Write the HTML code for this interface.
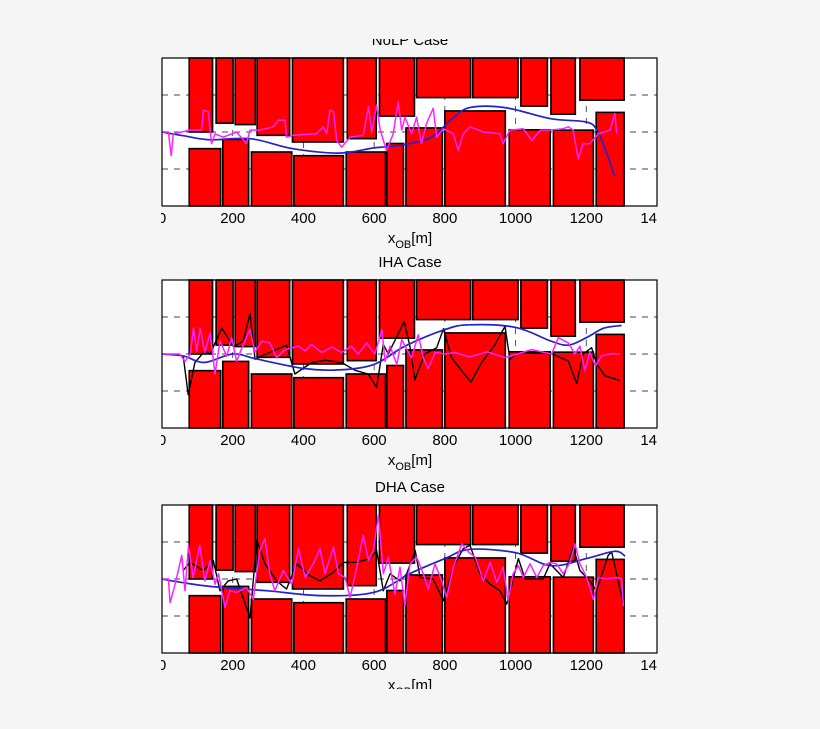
<!DOCTYPE html>
<html><head><meta charset="utf-8"><style>
html,body{margin:0;padding:0;background:#f5f5f5;}
svg{display:block;font-family:"Liberation Sans",sans-serif;}
</style></head><body>
<svg id="fig" width="820" height="729" viewBox="0 0 820 729" xmlns="http://www.w3.org/2000/svg">
<rect x="0" y="0" width="820" height="729" fill="#f5f5f5"/>
<defs><clipPath id="lblclip"><rect x="161" y="0" width="496" height="729"/></clipPath></defs>
</svg>
<script>
// ---- data ----
const xTicks = [0,200,400,600,800,1000,1200,1400];
const yTicks = [-10,0,10];
const panelTitles = ["NoLP Case","IHA Case","DHA Case"];
// buildings from the top edge: x start, x end, bottom value
const topStart = [77,153,207,269,369,524,615,720,879,1015,1100,1182];
const topEnd   = [143,201,264,361,513,606,714,873,1007,1090,1169,1307];
const topLow   = [0,2.4,2.0,-0.9,-2.7,-1.8,4.3,9.3,9.3,7,4.8,8.6];
// buildings from the bottom edge: x start, x end, top value
const botStart = [77,172,253,373,521,636,690,800,982,1107,1228];
const botEnd   = [166,245,367,513,632,683,793,971,1098,1220,1307];
const botHigh  = [-4.5,-2,-5.4,-6.4,-5.4,-3.1,1.1,5.7,0.6,0.5,5.3];

// Panel 1 (NoLP)
const p1BlueX = [0,60,136,250,370,500,600,680,760,820,870,970,1100,1200,1230,1255,1280];
const p1BlueY = [0,-1,-2.1,-1.8,-4.5,-5.7,-4.3,-3.5,-1.5,3.5,6.6,6.6,3.6,2.7,0.5,-5,-12];
const p1MagX = [0,18,26,32,79,112,117,131,140,150,173,211,239,249,277,315,329,348,352,371,437,456,466,475,485,494,508,532,569,584,593,607,617,635,654,668,678,687,706,720,734,748,767,777,796,824,838,852,871,909,956,965,984,1022,1046,1070,1097,1135,1149,1163,1177,1191,1210,1234,1267,1281,1286];
const p1MagY = [0,0,-6.4,-0.5,0.5,0.5,5.9,5.5,-3.2,-0.5,-1.4,0,-3.2,0.5,0.5,1.4,3.2,3.2,-1.4,-0.9,-0.5,1.4,-0.5,5.9,5.5,-2.3,-4.1,-1.4,-0.9,6.8,0,7.3,0.5,-5,-0.5,8.2,0.5,4,-0.5,4,-3.2,2.3,6.4,-1.4,0.9,-0.5,-5,-0.5,1.4,0,-0.5,-3.2,0.5,0.9,-2.3,0.5,0.5,0.9,1.4,0.5,-7.3,-3.2,-3.2,-0.5,0.5,5,-0.5];

// Panel 2 (IHA)
const p2BlueX = [0,60,120,200,270,400,500,600,687,800,870,1000,1100,1150,1200,1250,1300];
const p2BlueY = [0,-0.5,-2.3,0,-1.4,-3.9,-4.3,-2.8,2.1,6.6,7.9,7.2,3.5,2.4,4.4,7,7.7];
const p2BlackX = [60,74,93,121,136,169,202,230,249,263,282,352,376,423,461,508,546,583,607,626,640,685,701,715,743,777,796,819,847,874,904,942,970,984,1008,1102,1149,1173,1191,1215,1230,1253,1295];
const p2BlackY = [-0.5,-11,-2.3,0.8,0,7,2,3.5,11,-1.4,-0.5,2.4,-5.4,-2.3,-1.7,-2.3,-4.4,-5.4,-9,2.6,0,8.8,2.1,-7,0,1.7,6.8,-1,-4.5,-7.6,-2.3,2.6,7.5,-1.4,0.4,0.1,-1.9,-8,0,1.7,-2.8,-5.9,-7.2];
const p2MagX = [0,50,65,80,89,98,108,121,136,150,164,183,197,211,230,249,263,282,305,324,348,386,405,423,452,480,508,536,555,579,602,622,631,645,664,678,697,706,725,739,753,772,800,828,870,920,970,1045,1102,1121,1149,1168,1182,1196,1210,1226,1243,1271,1295];
const p2MagY = [0,0,-2,0,7,0.8,7,0.4,5.7,-5.4,3.5,-0.6,4.4,-2,2.6,6.6,0.4,3.5,3,-1,1.2,2.1,0.8,2.6,0.4,1.9,0.4,2.1,0,3,0,6.6,-2,2.1,-2.8,3.9,0.4,-1,5.2,-1,-4,0.4,0,0.4,-0.8,0.6,-1,1.2,0,4.4,3,0,2.1,-4.5,0.4,-3.2,-0.5,0.1,0];

// Panel 3 (DHA)
const p3BlueX = [0,60,136,300,450,600,700,800,870,1000,1100,1200,1280,1310];
const p3BlueY = [0,-1,-2,-3.2,-4.5,-3.6,1.4,5.5,8,7.1,3.6,5.5,7.5,6.2];
const p3BlackX = [60,79,117,145,164,187,211,249,268,291,324,352,381,418,447,485,513,551,588,607,626,645,673,692,716,730,767,796,824,852,871,899,928,956,975,1008,1027,1078,1097,1135,1163,1182,1210,1229,1262,1272,1305];
const p3BlackY = [2.3,4.5,2.3,5,-3.2,-0.5,0,-10.5,10.5,4.1,-0.5,-2.7,4.1,0.9,-0.5,1.8,4.5,4.5,5.5,7.7,-3.2,1.4,-0.5,1.4,7.7,0.4,0,-5.9,3.2,8.2,9.1,1.4,-1.4,-3.2,-6.8,5.5,0,0,4.1,0.4,8.6,2.3,-0.5,-3.2,6.4,7.3,-6.8];
const p3MagX = [0,18,23,37,56,65,75,88,107,121,136,150,160,178,192,211,239,258,277,291,305,319,343,367,386,405,428,447,461,485,499,518,532,551,569,584,598,612,626,640,659,673,687,701,720,739,753,772,791,805,824,848,867,886,909,928,947,965,979,993,1008,1022,1041,1060,1078,1097,1116,1135,1154,1168,1182,1201,1220,1234,1257,1286,1300,1305];
const p3MagY = [0,0,-6.4,-1.4,6.4,-3.2,9.1,0.4,9.1,-0.5,5,-1.4,1.4,-7.7,-3.2,-3.6,-2.3,-5.5,7.7,10.9,1.4,-3.2,2.3,-1.4,8.2,0.4,4.1,8.2,1.4,8.6,1.4,0.4,-5,3.2,11.8,5,7.7,17.3,1.4,5.9,-4.1,3.2,-7.3,4.1,5.9,1.4,-2.7,4.1,-0.5,-5,3.2,9.5,7.3,5.9,-0.5,4.5,-0.9,3.2,-5.9,1.4,3.6,0.4,4.1,0.4,3.6,4.5,4.1,1.4,4.5,9.5,4.1,0.4,-5.5,0.4,0,0.4,0,-7.3];

const panels = [
  {top:58, blue:[p1BlueX,p1BlueY], mag:[p1MagX,p1MagY], black:null},
  {top:280, blue:[p2BlueX,p2BlueY], mag:[p2MagX,p2MagY], black:[p2BlackX,p2BlackY]},
  {top:505, blue:[p3BlueX,p3BlueY], mag:[p3MagX,p3MagY], black:[p3BlackX,p3BlackY]}
];

// ---- drawing ----
const NS = "http://www.w3.org/2000/svg";
const svg = document.getElementById("fig");
const L = 162, R = 657, H = 148, XMAX = 1400, YMIN = -20, YMAX = 20;
function sx(m){ return L + (m/XMAX)*(R-L); }
function mk(tag, attrs, parent){
  const e = document.createElementNS(NS, tag);
  for (const k in attrs) e.setAttribute(k, attrs[k]);
  (parent||svg).appendChild(e);
  return e;
}
function pathFrom(xs, ys, sy){
  let d = "";
  for (let i=0;i<xs.length;i++) d += (i?"L":"M") + sx(xs[i]).toFixed(1) + " " + sy(ys[i]).toFixed(1);
  return d;
}
function smoothPath(xs, ys, sy){
  const P = xs.map((x,i)=>[sx(x), sy(ys[i])]);
  let d = "M"+P[0][0].toFixed(1)+" "+P[0][1].toFixed(1);
  for (let i=0;i<P.length-1;i++){
    const p0=P[i-1]||P[i], p1=P[i], p2=P[i+1], p3=P[i+2]||P[i+1];
    const c1=[p1[0]+(p2[0]-p0[0])/6, p1[1]+(p2[1]-p0[1])/6];
    const c2=[p2[0]-(p3[0]-p1[0])/6, p2[1]-(p3[1]-p1[1])/6];
    d += "C"+c1[0].toFixed(1)+" "+c1[1].toFixed(1)+" "+c2[0].toFixed(1)+" "+c2[1].toFixed(1)+" "+p2[0].toFixed(1)+" "+p2[1].toFixed(1);
  }
  return d;
}

panels.forEach((p, pi) => {
  const top = p.top, bot = top + H;
  const sy = v => top + (YMAX - v)/(YMAX-YMIN)*H;
  const g = mk("g", {});
  
  

  const bg = mk("rect", {x:L, y:top, width:R-L, height:H, fill:"#fff"}, g);
  
  

  yTicks.forEach(v => {
    const ln = mk("line", {x1:L, x2:R, y1:sy(v), y2:sy(v), stroke:"#444", "stroke-width":0.9, "stroke-dasharray":"6,6"}, g);
    
    
  });
  xTicks.forEach(v => {
    const ln = mk("line", {x1:sx(v), x2:sx(v), y1:top, y2:bot, stroke:"#444", "stroke-width":0.9, "stroke-dasharray":"6,6"}, g);
    
    
  });

  topStart.forEach((s, i) => {
    const r = mk("rect", {x:sx(s), y:top, width:sx(topEnd[i])-sx(s), height:sy(topLow[i])-top, fill:"#ff0000", stroke:"#000", "stroke-width":1.6}, g);
    
    
  });
  botStart.forEach((s, i) => {
    const r = mk("rect", {x:sx(s), y:sy(botHigh[i]), width:sx(botEnd[i])-sx(s), height:bot-sy(botHigh[i]), fill:"#ff0000", stroke:"#000", "stroke-width":1.6}, g);
    
    
  });

  if (p.black){
    const b = mk("path", {d:pathFrom(p.black[0], p.black[1], sy), fill:"none", stroke:"#000", "stroke-width":1.4, "stroke-linejoin":"round"}, g);
    
    
  }
  const bl = mk("path", {d:smoothPath(p.blue[0], p.blue[1], sy), fill:"none", stroke:"#2222cc", "stroke-width":1.7}, g);
  
  
  const mg = mk("path", {d:pathFrom(p.mag[0], p.mag[1], sy), fill:"none", stroke:"#ff22ff", "stroke-width":1.5, "stroke-linejoin":"round"}, g);
  
  

  const fr = mk("rect", {x:L, y:top, width:R-L, height:H, fill:"none", stroke:"#000", "stroke-width":1.2}, g);
  
  

  const lg = mk("g", {"clip-path":"url(#lblclip)"}, g);
  xTicks.forEach(v => {
    const t = mk("text", {x:sx(v), y:bot+17, "text-anchor":"middle", "font-size":15, fill:"#000"}, lg);
    t.textContent = v;
    
    
  });

  const xl = mk("text", {x:410, y:bot+37, "text-anchor":"middle", "font-size":15, fill:"#000"}, g);
  
  
  const t1 = mk("tspan", {}, xl); t1.textContent = "x";
  const t2 = mk("tspan", {dy:5, "font-size":11}, xl); t2.textContent = "OB";
  const t3 = mk("tspan", {dy:-5}, xl); t3.textContent = "[m]";

  const tt = mk("text", {x:410, y:top-13, "text-anchor":"middle", "font-size":15, fill:"#000"}, g);
  tt.textContent = panelTitles[pi];
  
  
});

// crop overlays (reference image is cut at top and bottom)
const c1 = mk("rect", {x:0, y:0, width:820, height:39, fill:"#f5f5f5"});


const c2 = mk("rect", {x:0, y:689, width:820, height:40, fill:"#f5f5f5"});


</script>
</body></html>
